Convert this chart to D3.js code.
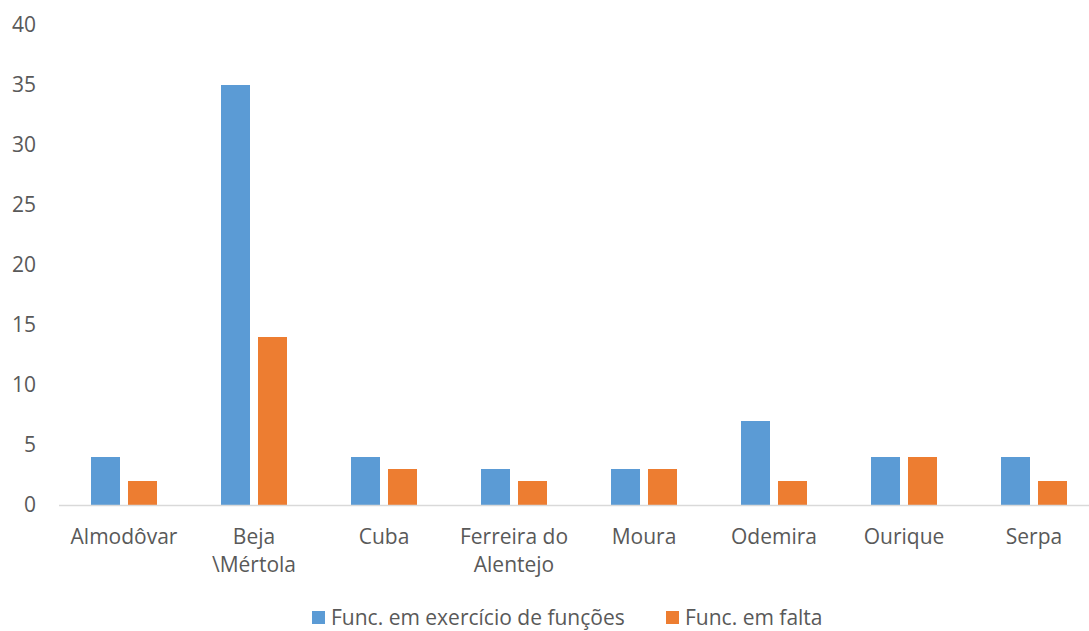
<!DOCTYPE html>
<html><head><meta charset="utf-8">
<script src="https://cdn.jsdelivr.net/npm/d3@7"></script>
<style>body{margin:0;background:#fff}svg{display:block}text{font-family:"Open Sans",sans-serif;fill:#595959}</style>
</head><body><svg id="c" width="1089" height="631"></svg>
<script>
const categories = [["Almodôvar"],["Beja","\\Mértola"],["Cuba"],["Ferreira do","Alentejo"],["Moura"],["Odemira"],["Ourique"],["Serpa"]];
const seriesNames = ["Func. em exercício de funções","Func. em falta"];
const emExercicio = [4,35,4,3,3,7,4,4];
const emFalta = [2,14,3,2,3,2,4,2];
const yTicks = [0,5,10,15,20,25,30,35,40];
const colors = ["#5B9BD5","#ED7D31"];

const svg = d3.select("#c");
const x = d3.scaleBand().domain(categories.map((d,i)=>i)).range([59,1099]);
const y = d3.scaleLinear().domain([0,40]).range([505,25]);
const xs = d3.scaleBand().domain([0,1]).range([x.bandwidth()/2-33, x.bandwidth()/2+33]).paddingInner(8/37);

const data = [emExercicio, emFalta];
data.forEach((vals,s)=>{
  svg.append("g").selectAll("rect").data(vals).join("rect")
    .attr("x",(d,i)=>x(i)+xs(s)).attr("width",xs.bandwidth())
    .attr("y",d=>y(d)).attr("height",d=>y(0)-y(d)).attr("fill",colors[s]);
});

svg.append("line").attr("x1",59).attr("x2",1099).attr("y1",y(0)+0.5).attr("y2",y(0)+0.5).attr("stroke","#D9D9D9").attr("stroke-width",1.5);

const ya = svg.append("g").attr("transform","translate(36,0)").call(d3.axisLeft(y).tickValues(yTicks).tickSize(0).tickPadding(0));
ya.select(".domain").remove();
ya.selectAll("text").style("font-size","21px").attr("fill","#595959").style("font-family","'Open Sans', sans-serif");

const xl = svg.append("g");
categories.forEach((lines,i)=>{
  const t = xl.append("text").attr("x",x(i)+x.bandwidth()/2).attr("y",544).attr("text-anchor","middle").style("font-size","21px");
  lines.forEach((l,j)=>t.append("tspan").attr("x",x(i)+x.bandwidth()/2).attr("dy",j?28:0).text(l));
});

const leg = svg.append("g");
const lx = [312, 666];
seriesNames.forEach((n,s)=>{
  leg.append("rect").attr("x",lx[s]).attr("y",611).attr("width",13).attr("height",13).attr("fill",colors[s]);
  leg.append("text").attr("x",lx[s]+19).attr("y",625).style("font-size","21px").text(n);
});
</script></body></html>
